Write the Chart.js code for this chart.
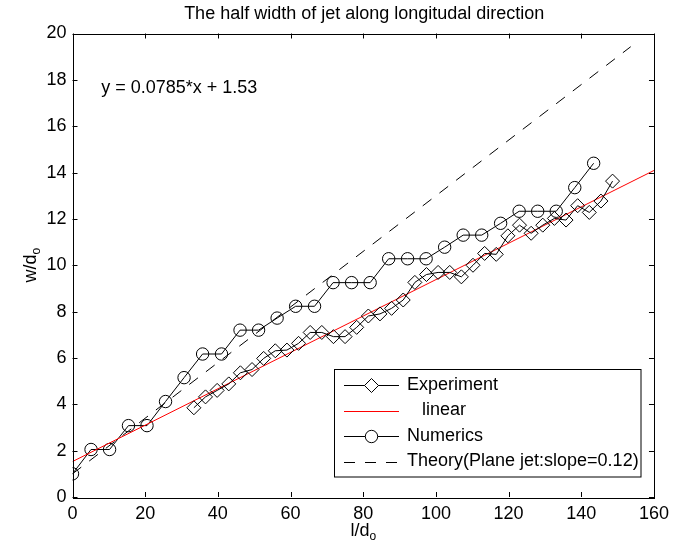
<!DOCTYPE html>
<html>
<head>
<meta charset="utf-8">
<title>The half width of jet along longitudal direction</title>
<script src="https://cdn.jsdelivr.net/npm/chart.js@4.4.0/dist/chart.umd.min.js"></script>
<style>
  html, body { margin: 0; padding: 0; background: #fff; }
  #wrap { width: 675px; height: 554px; }
</style>
</head>
<body>
<div id="wrap"><canvas id="jetChart" width="675" height="554"></canvas></div>
<script>
// data
const expX = [33.4, 36.6, 39.8, 43.0, 46.2, 49.4, 52.6, 55.8, 59.0, 62.2, 65.4, 68.6, 71.8, 75.0, 78.2, 81.4, 84.6, 87.8, 91.0,
  94.2, 97.4, 100.6, 103.8, 107.0, 110.2, 113.4, 116.6, 119.8, 123.0, 126.2, 129.4, 132.6, 135.8, 139.0, 142.2, 145.4, 148.6];
const expY = [3.85, 4.32, 4.6, 4.88, 5.36, 5.5, 5.98, 6.31, 6.34, 6.63, 7.1, 7.1, 6.92, 6.92, 7.32, 7.81, 7.9, 8.14, 8.5,
  9.26, 9.6, 9.69, 9.69, 9.5, 10.0, 10.51, 10.47, 11.27, 11.73, 11.38, 11.73, 12.02, 11.95, 12.57, 12.28, 12.77, 13.63];

const numX = [0, 5.1, 10.2, 15.4, 20.5, 25.6, 30.7, 35.8, 41.0, 46.1, 51.2, 56.3, 61.4, 66.6, 71.7,
  76.8, 81.9, 87.0, 92.2, 97.3, 102.4, 107.5, 112.6, 117.8, 122.9, 128.0, 133.1, 138.2, 143.4];
const numY = [1.0, 2.05, 2.05, 3.08, 3.08, 4.12, 5.15, 6.17, 6.17, 7.2, 7.2, 7.72, 8.23, 8.23, 9.25,
  9.25, 9.25, 10.28, 10.28, 10.28, 10.78, 11.3, 11.3, 11.81, 12.33, 12.33, 12.33, 13.35, 14.4];

// fitted line y = 0.0785*x + 1.53 (end points)
const linX = [0, 160];
const linY = [1.53, 14.09];

// theory, plane jet slope 0.12 (end points)
const theoryX = [0, 153.6];
const theoryY = [1.0, 19.43];

const xTicks = [0, 20, 40, 60, 80, 100, 120, 140, 160];
const yTicks = [0, 2, 4, 6, 8, 10, 12, 14, 16, 18, 20];

const seriesNames = ["Experiment", "   linear", "Numerics", "Theory(Plane jet:slope=0.12)"];
const seriesColors = ["#000000", "#ff0000", "#000000", "#000000"];
const fitText = "y = 0.0785*x + 1.53";
const fitAt = [7.9, 17.65];

const FONT = "'Liberation Sans', Arial, Helvetica, sans-serif";
const DIAMOND_R = 7;
const CIRCLE_R = 6.2;

function pts(xs, ys){
  return xs.map((x, i) => ({ x, y: ys[i] }));
}

function diamond(ctx, x, y, r){
  ctx.beginPath();
  ctx.moveTo(x, y - r); ctx.lineTo(x + r, y); ctx.lineTo(x, y + r); ctx.lineTo(x - r, y);
  ctx.closePath();
  ctx.fillStyle = "#fff"; ctx.fill();
  ctx.stroke();
}
function circle(ctx, x, y, r){
  ctx.beginPath(); ctx.arc(x, y, r, 0, Math.PI * 2);
  ctx.fillStyle = "#fff"; ctx.fill();
  ctx.stroke();
}

// frame, inward ticks, texts and legend (matlab look)
const matlabLook = {
  id: "matlabLook",
  afterDatasetsDraw(chart){
    const ctx = chart.ctx;
    const a = chart.chartArea;
    const xs = chart.scales.x, ys = chart.scales.y;
    ctx.save();
    ctx.strokeStyle = "#000";
    ctx.lineWidth = 1;
    ctx.setLineDash([]);

    // box
    ctx.strokeRect(Math.round(a.left) + 0.5, Math.round(a.top) + 0.5,
      Math.round(a.right - a.left), Math.round(a.bottom - a.top));

    // ticks inward
    const tl = 5;
    ctx.beginPath();
    xTicks.forEach(v => {
      const px = Math.round(xs.getPixelForValue(v)) + 0.5;
      ctx.moveTo(px, a.bottom); ctx.lineTo(px, a.bottom - tl);
      ctx.moveTo(px, a.top); ctx.lineTo(px, a.top + tl);
    });
    yTicks.forEach(v => {
      const py = Math.round(ys.getPixelForValue(v)) + 0.5;
      ctx.moveTo(a.left, py); ctx.lineTo(a.left + tl, py);
      ctx.moveTo(a.right, py); ctx.lineTo(a.right - tl, py);
    });
    ctx.stroke();

    ctx.fillStyle = "#000";
    // title
    ctx.font = "18px " + FONT;
    ctx.textAlign = "center";
    ctx.textBaseline = "alphabetic";
    ctx.fillText("The half width of jet along longitudal direction", (a.left + a.right) / 2 + 1, 19);

    // fit annotation
    ctx.textAlign = "left";
    ctx.textBaseline = "middle";
    ctx.fillText(fitText, xs.getPixelForValue(fitAt[0]), ys.getPixelForValue(fitAt[1]));

    // x axis label l/d_o
    ctx.textBaseline = "alphabetic";
    const cx = (a.left + a.right) / 2;
    ctx.font = "18px " + FONT;
    const w1 = ctx.measureText("l/d").width;
    ctx.font = "12px " + FONT;
    const w2 = ctx.measureText("o").width;
    let sx = cx - (w1 + w2) / 2;
    ctx.font = "18px " + FONT;
    ctx.fillText("l/d", sx, 536);
    ctx.font = "12px " + FONT;
    ctx.fillText("o", sx + w1, 540);

    // y axis label w/d_o
    ctx.save();
    ctx.translate(36, (a.top + a.bottom) / 2);
    ctx.rotate(-Math.PI / 2);
    ctx.font = "18px " + FONT;
    const v1 = ctx.measureText("w/d").width;
    ctx.font = "12px " + FONT;
    const v2 = ctx.measureText("o").width;
    sx = -(v1 + v2) / 2;
    ctx.font = "18px " + FONT;
    ctx.fillText("w/d", sx, 0);
    ctx.font = "12px " + FONT;
    ctx.fillText("o", sx + v1, 4);
    ctx.restore();

    // legend
    const L = { left: 334, top: 369.5, right: 640.5, bottom: 477 };
    ctx.fillStyle = "#fff";
    ctx.fillRect(L.left, L.top, L.right - L.left, L.bottom - L.top);
    ctx.strokeStyle = "#000";
    ctx.strokeRect(L.left + 0.5, L.top, L.right - L.left, L.bottom - L.top);
    const rowY = [385, 410.5, 436, 461.5];
    chart.data.datasets.forEach((ds, i) => {
      const y = Math.round(rowY[i]) + 0.5;
      ctx.strokeStyle = seriesColors[i];
      ctx.lineWidth = 1;
      ctx.setLineDash(ds.borderDash || []);
      ctx.beginPath(); ctx.moveTo(344, y); ctx.lineTo(399, y); ctx.stroke();
      ctx.setLineDash([]);
      if (i === 0) diamond(ctx, 371.5, y, DIAMOND_R);
      if (i === 2) circle(ctx, 371.5, y, CIRCLE_R);
      ctx.fillStyle = "#000";
      ctx.font = "18px " + FONT;
      ctx.textAlign = "left";
      ctx.textBaseline = "middle";
      ctx.fillText(ds.label, 407, rowY[i]);
    });
    ctx.restore();
  }
};

new Chart(document.getElementById("jetChart"), {
  type: "line",
  data: {
    datasets: [
      { label: seriesNames[0], data: pts(expX, expY), borderColor: seriesColors[0], borderWidth: 1,
        pointStyle: "rectRot", pointRadius: DIAMOND_R, pointBorderWidth: 1, pointBorderColor: "#000",
        pointBackgroundColor: "rgba(0,0,0,0)", tension: 0, fill: false },
      { label: seriesNames[1], data: pts(linX, linY), borderColor: seriesColors[1], borderWidth: 1,
        pointRadius: 0, tension: 0, fill: false },
      { label: seriesNames[2], data: pts(numX, numY), borderColor: seriesColors[2], borderWidth: 1,
        pointStyle: "circle", pointRadius: CIRCLE_R, pointBorderWidth: 1, pointBorderColor: "#000",
        pointBackgroundColor: "rgba(0,0,0,0)", tension: 0, fill: false },
      { label: seriesNames[3], data: pts(theoryX, theoryY), borderColor: seriesColors[3], borderWidth: 1,
        borderDash: [11, 10], pointRadius: 0, tension: 0, fill: false }
    ]
  },
  options: {
    responsive: false,
    devicePixelRatio: 1,
    animation: false,
    events: [],
    layout: { padding: { top: 33.5, right: 16, left: 0, bottom: 0 } },
    plugins: { legend: { display: false }, tooltip: { enabled: false }, title: { display: false } },
    scales: {
      x: {
        type: "linear", min: 0, max: 160,
        afterBuildTicks: s => { s.ticks = xTicks.map(v => ({ value: v })); },
        afterFit: s => { s.height = 57; },
        grid: { display: false, drawTicks: false },
        border: { display: false },
        ticks: { color: "#000", padding: 6, maxRotation: 0, font: { family: FONT, size: 18 } }
      },
      y: {
        type: "linear", min: 0, max: 20,
        afterBuildTicks: s => { s.ticks = yTicks.map(v => ({ value: v })); },
        afterFit: s => { s.width = 72.5; },
        grid: { display: false, drawTicks: false },
        border: { display: false },
        ticks: { color: "#000", padding: 6, font: { family: FONT, size: 18 } }
      }
    }
  },
  plugins: [matlabLook]
});
</script>
</body>
</html>
